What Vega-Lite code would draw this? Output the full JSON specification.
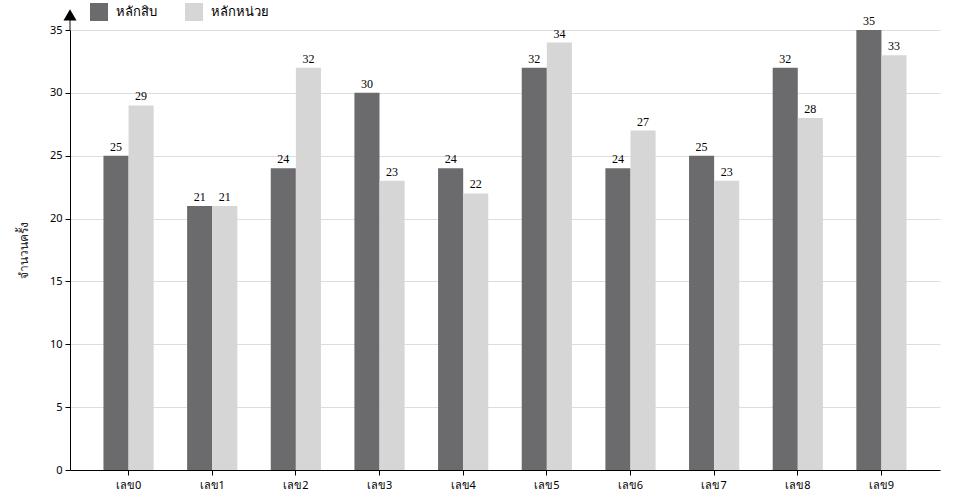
{
  "$schema": "https://vega.github.io/schema/vega-lite/v6.json",
  "width": 870,
  "height": 440,
  "autosize": {"type": "none"},
  "padding": {"left": 70, "top": 30, "right": 20, "bottom": 30},
  "background": "white",
  "config": {
    "view": {"stroke": null},
    "font": "Noto Sans",
    "axis": {"labelFont": "Noto Sans", "titleFont": "Noto Sans"}
  },
  "datasets": {
    "bars": [
      {"digit": "เลข0", "place": "หลักสิบ", "count": 25},
      {"digit": "เลข0", "place": "หลักหน่วย", "count": 29},
      {"digit": "เลข1", "place": "หลักสิบ", "count": 21},
      {"digit": "เลข1", "place": "หลักหน่วย", "count": 21},
      {"digit": "เลข2", "place": "หลักสิบ", "count": 24},
      {"digit": "เลข2", "place": "หลักหน่วย", "count": 32},
      {"digit": "เลข3", "place": "หลักสิบ", "count": 30},
      {"digit": "เลข3", "place": "หลักหน่วย", "count": 23},
      {"digit": "เลข4", "place": "หลักสิบ", "count": 24},
      {"digit": "เลข4", "place": "หลักหน่วย", "count": 22},
      {"digit": "เลข5", "place": "หลักสิบ", "count": 32},
      {"digit": "เลข5", "place": "หลักหน่วย", "count": 34},
      {"digit": "เลข6", "place": "หลักสิบ", "count": 24},
      {"digit": "เลข6", "place": "หลักหน่วย", "count": 27},
      {"digit": "เลข7", "place": "หลักสิบ", "count": 25},
      {"digit": "เลข7", "place": "หลักหน่วย", "count": 23},
      {"digit": "เลข8", "place": "หลักสิบ", "count": 32},
      {"digit": "เลข8", "place": "หลักหน่วย", "count": 28},
      {"digit": "เลข9", "place": "หลักสิบ", "count": 35},
      {"digit": "เลข9", "place": "หลักหน่วย", "count": 33}
    ],
    "arrow": [{"pos": 0, "from": 35, "to": 36.2}]
  },
  "layer": [
    {
      "data": {"name": "bars"},
      "layer": [
        {
          "mark": {"type": "bar"},
          "encoding": {
            "x": {
              "field": "digit", "type": "nominal", "sort": null,
              "scale": {"paddingInner": 0.4, "paddingOuter": 0.4},
              "axis": {
                "title": null, "labelAngle": 0, "labelFontSize": 11, "labelColor": "#000",
                "domainColor": "#000", "tickColor": "#000", "tickSize": 5, "labelPadding": 4
              }
            },
            "xOffset": {"field": "place", "type": "nominal", "sort": ["หลักสิบ", "หลักหน่วย"]},
            "y": {
              "field": "count", "type": "quantitative",
              "scale": {"domain": [0, 35], "nice": false},
              "axis": {
                "title": "จำนวนครั้ง", "titleFontSize": 12, "titleFontWeight": "normal", "titleColor": "#222",
                "titlePadding": 19, "values": [0, 5, 10, 15, 20, 25, 30, 35],
                "labelFontSize": 11, "labelColor": "#000", "domainColor": "#000", "tickColor": "#000",
                "tickSize": 5, "gridColor": "#dddddd", "labelPadding": 3
              }
            },
            "color": {
              "field": "place", "type": "nominal",
              "scale": {"domain": ["หลักสิบ", "หลักหน่วย"], "range": ["#6b6b6d", "#d6d6d6"]},
              "legend": {
                "title": null, "orient": "none", "legendX": 20, "legendY": -27, "direction": "horizontal",
                "symbolType": "square", "symbolSize": 324, "symbolStrokeWidth": 0, "labelFontSize": 13,
                "labelColor": "#000", "columnPadding": 28, "labelOffset": 8
              }
            }
          }
        },
        {
          "mark": {"type": "text", "baseline": "bottom", "dy": -2, "font": "Liberation Serif", "fontSize": 12, "color": "#000"},
          "encoding": {
            "x": {"field": "digit", "type": "nominal", "sort": null},
            "xOffset": {"field": "place", "type": "nominal", "sort": ["หลักสิบ", "หลักหน่วย"]},
            "y": {"field": "count", "type": "quantitative"},
            "text": {"field": "count", "type": "quantitative"}
          }
        }
      ]
    },
    {
      "data": {"name": "arrow"},
      "layer": [
        {
          "mark": {"type": "rule", "color": "#888888", "strokeWidth": 2},
          "encoding": {
            "x": {"field": "pos", "type": "quantitative", "scale": {"domain": [0, 1]}, "axis": null},
            "y": {"field": "from", "type": "quantitative"},
            "y2": {"field": "to"}
          }
        },
        {
          "mark": {"type": "point", "shape": "triangle-up", "filled": true, "color": "#000", "size": 170, "opacity": 1, "clip": false},
          "encoding": {
            "x": {"field": "pos", "type": "quantitative", "scale": {"domain": [0, 1]}, "axis": null},
            "y": {"field": "to", "type": "quantitative"}
          }
        }
      ]
    }
  ],
  "resolve": {"scale": {"x": "independent"}}
}
